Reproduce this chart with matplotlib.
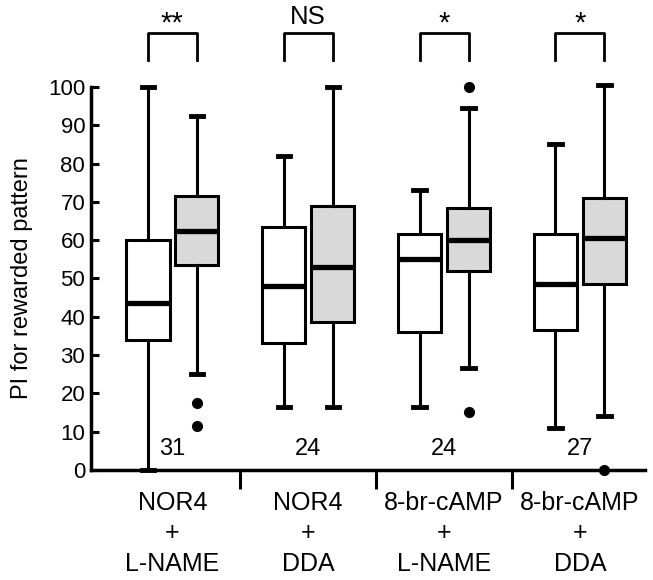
import numpy as np
import matplotlib.pyplot as plt

plt.rcParams['font.family'] = ['Liberation Sans', 'DejaVu Sans']

# groups and box statistics (white = control, gray = rewarded)
groups = ["NOR4\n+\nL-NAME", "NOR4\n+\nDDA", "8-br-cAMP\n+\nL-NAME", "8-br-cAMP\n+\nDDA"]
n_labels = ["31", "24", "24", "27"]
signif = ["**", "NS", "*", "*"]

white_lo = [0, 16.5, 16.5, 11]
white_q1 = [34, 33, 36, 36.5]
white_med = [43.5, 48, 55, 48.5]
white_q3 = [60, 63.5, 61.5, 61.5]
white_hi = [100, 82, 73, 85]
white_out = [[], [], [], []]

gray_lo = [25, 16.5, 26.5, 14]
gray_q1 = [53.5, 38.5, 52, 48.5]
gray_med = [62.5, 53, 60, 60.5]
gray_q3 = [71.5, 69, 68.5, 71]
gray_hi = [92.5, 100, 94.5, 100.5]
gray_out = [[17.5, 11.5], [], [100, 15], [0]]


def make_stats(lo, q1, med, q3, hi, out):
    return [dict(whislo=a, q1=b, med=c, q3=d, whishi=e, fliers=f)
            for a, b, c, d, e, f in zip(lo, q1, med, q3, hi, out)]


fig = plt.figure(figsize=(6.53, 5.8), dpi=100)
ax = fig.add_axes([0.139, 0.19, 0.849, 0.66])

centers = np.arange(len(groups))
off = 0.18
bw = 0.32

common = dict(widths=bw, patch_artist=True, showfliers=True,
              whiskerprops=dict(color='black', lw=2.2),
              capprops=dict(color='black', lw=3.5),
              medianprops=dict(color='black', lw=3.8),
              flierprops=dict(marker='o', markerfacecolor='black',
                              markeredgecolor='black', markersize=7))

w = ax.bxp(make_stats(white_lo, white_q1, white_med, white_q3, white_hi, white_out),
           positions=centers - off, boxprops=dict(facecolor='white', edgecolor='black', lw=2.2),
           capwidths=0.09, **common)
g = ax.bxp(make_stats(gray_lo, gray_q1, gray_med, gray_q3, gray_hi, gray_out),
           positions=centers + off, boxprops=dict(facecolor='#d9d9d9', edgecolor='black', lw=2.2),
           capwidths=0.09, **common)
for res in (w, g):
    for key in res:
        for art in res[key]:
            art.set_clip_on(False)

ax.set_xlim(-0.6, 3.48)
ax.set_ylim(0, 100)
ax.set_yticks(range(0, 101, 10))
ax.tick_params(axis='y', direction='in', length=6, width=2.2, labelsize=16, pad=4)
ax.set_xticks(centers)
ax.set_xticklabels(groups, fontsize=18, linespacing=1.35)
ax.tick_params(axis='x', which='major', length=0, pad=15)
ax.set_xticks(centers[:-1] + 0.5, minor=True)
ax.tick_params(axis='x', which='minor', direction='out', length=14, width=2.2)
ax.set_ylabel("PI for rewarded pattern", fontsize=17, labelpad=11)

for s in ['top', 'right']:
    ax.spines[s].set_visible(False)
for s in ['left', 'bottom']:
    ax.spines[s].set_linewidth(2.5)

for c, n, s in zip(centers, n_labels, signif):
    ax.text(c, 5.5, n, ha='center', va='center', fontsize=17)
    x0, x1 = c - off, c + off
    ax.plot([x0, x0, x1, x1], [107, 114.1, 114.1, 107], color='black', lw=2, clip_on=False)
    if s == "NS":
        ax.text(c, 118.4, s, ha='center', va='center', fontsize=18.5, clip_on=False)
    else:
        ax.text(c, 116.5, s, ha='center', va='center', fontsize=21, clip_on=False)

fig.savefig("out.png", dpi=100)
